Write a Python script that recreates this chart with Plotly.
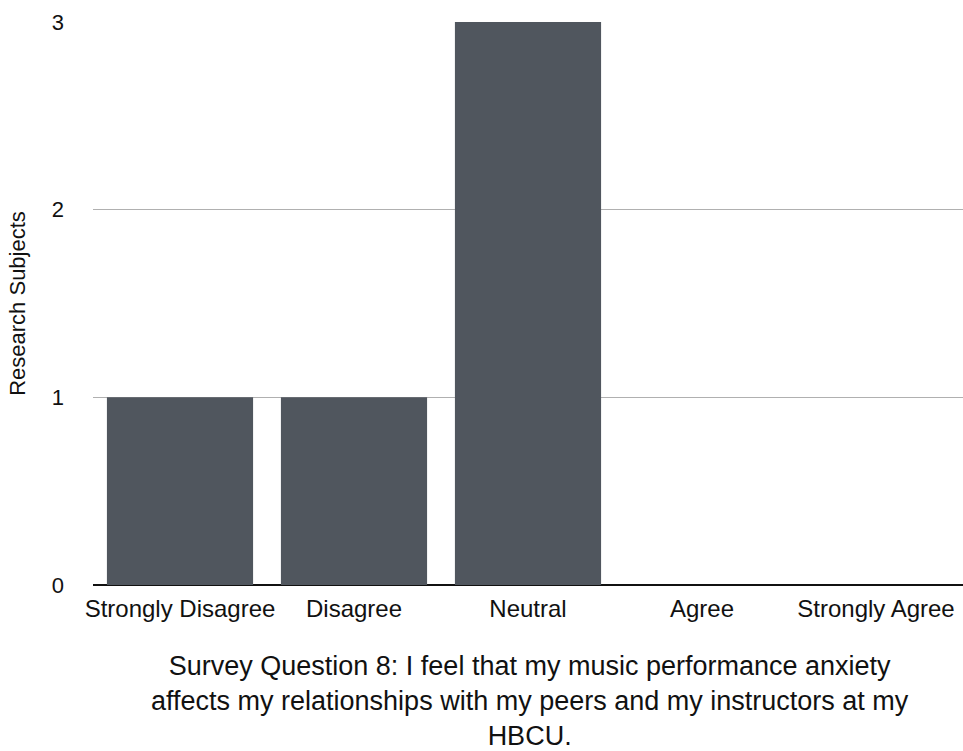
import plotly.graph_objects as go

categories = ["Strongly Disagree", "Disagree", "Neutral", "Agree", "Strongly Agree"]
values = [1, 1, 3, 0, 0]
y_ticks = [0, 1, 2, 3]
title_lines = [
    "Survey Question 8: I feel that my music performance anxiety",
    "affects my relationships with my peers and my instructors at my",
    "HBCU.",
]

fig = go.Figure(go.Bar(x=categories, y=values, marker=dict(color="#50565e", line=dict(width=0))))

fig.update_layout(
    width=963, height=751,
    margin=dict(l=93, r=0, t=22, b=166),
    paper_bgcolor="white", plot_bgcolor="white",
    bargap=0.16,
    showlegend=False,
    font=dict(family="Liberation Sans, Arial, sans-serif", color="#111111"),
)
fig.update_xaxes(
    type="category", range=[-0.5, 4.5],
    showgrid=False, showline=False, ticks="",
    tickfont=dict(size=24, color="#111111"),
    ticklabelstandoff=7,
)
fig.update_yaxes(
    range=[0, 3], tickvals=y_ticks, ticktext=[str(v) for v in y_ticks],
    showgrid=True, gridcolor="#b0b0b0", gridwidth=1,
    zeroline=True, zerolinecolor="#111111", zerolinewidth=2,
    showline=False, ticks="",
    tickfont=dict(size=22, color="#111111"),
    ticklabelstandoff=28,
    title=dict(text="Research Subjects", font=dict(size=22, color="#111111"), standoff=20),
)

fig.add_annotation(
    text="<br>".join(title_lines),
    xref="paper", yref="paper", x=0.502, y=-0.113,
    xanchor="center", yanchor="top", showarrow=False,
    font=dict(family="Liberation Sans, Arial, sans-serif", size=27, color="#111111"),
    align="center",
)

fig.write_html("out.html")
